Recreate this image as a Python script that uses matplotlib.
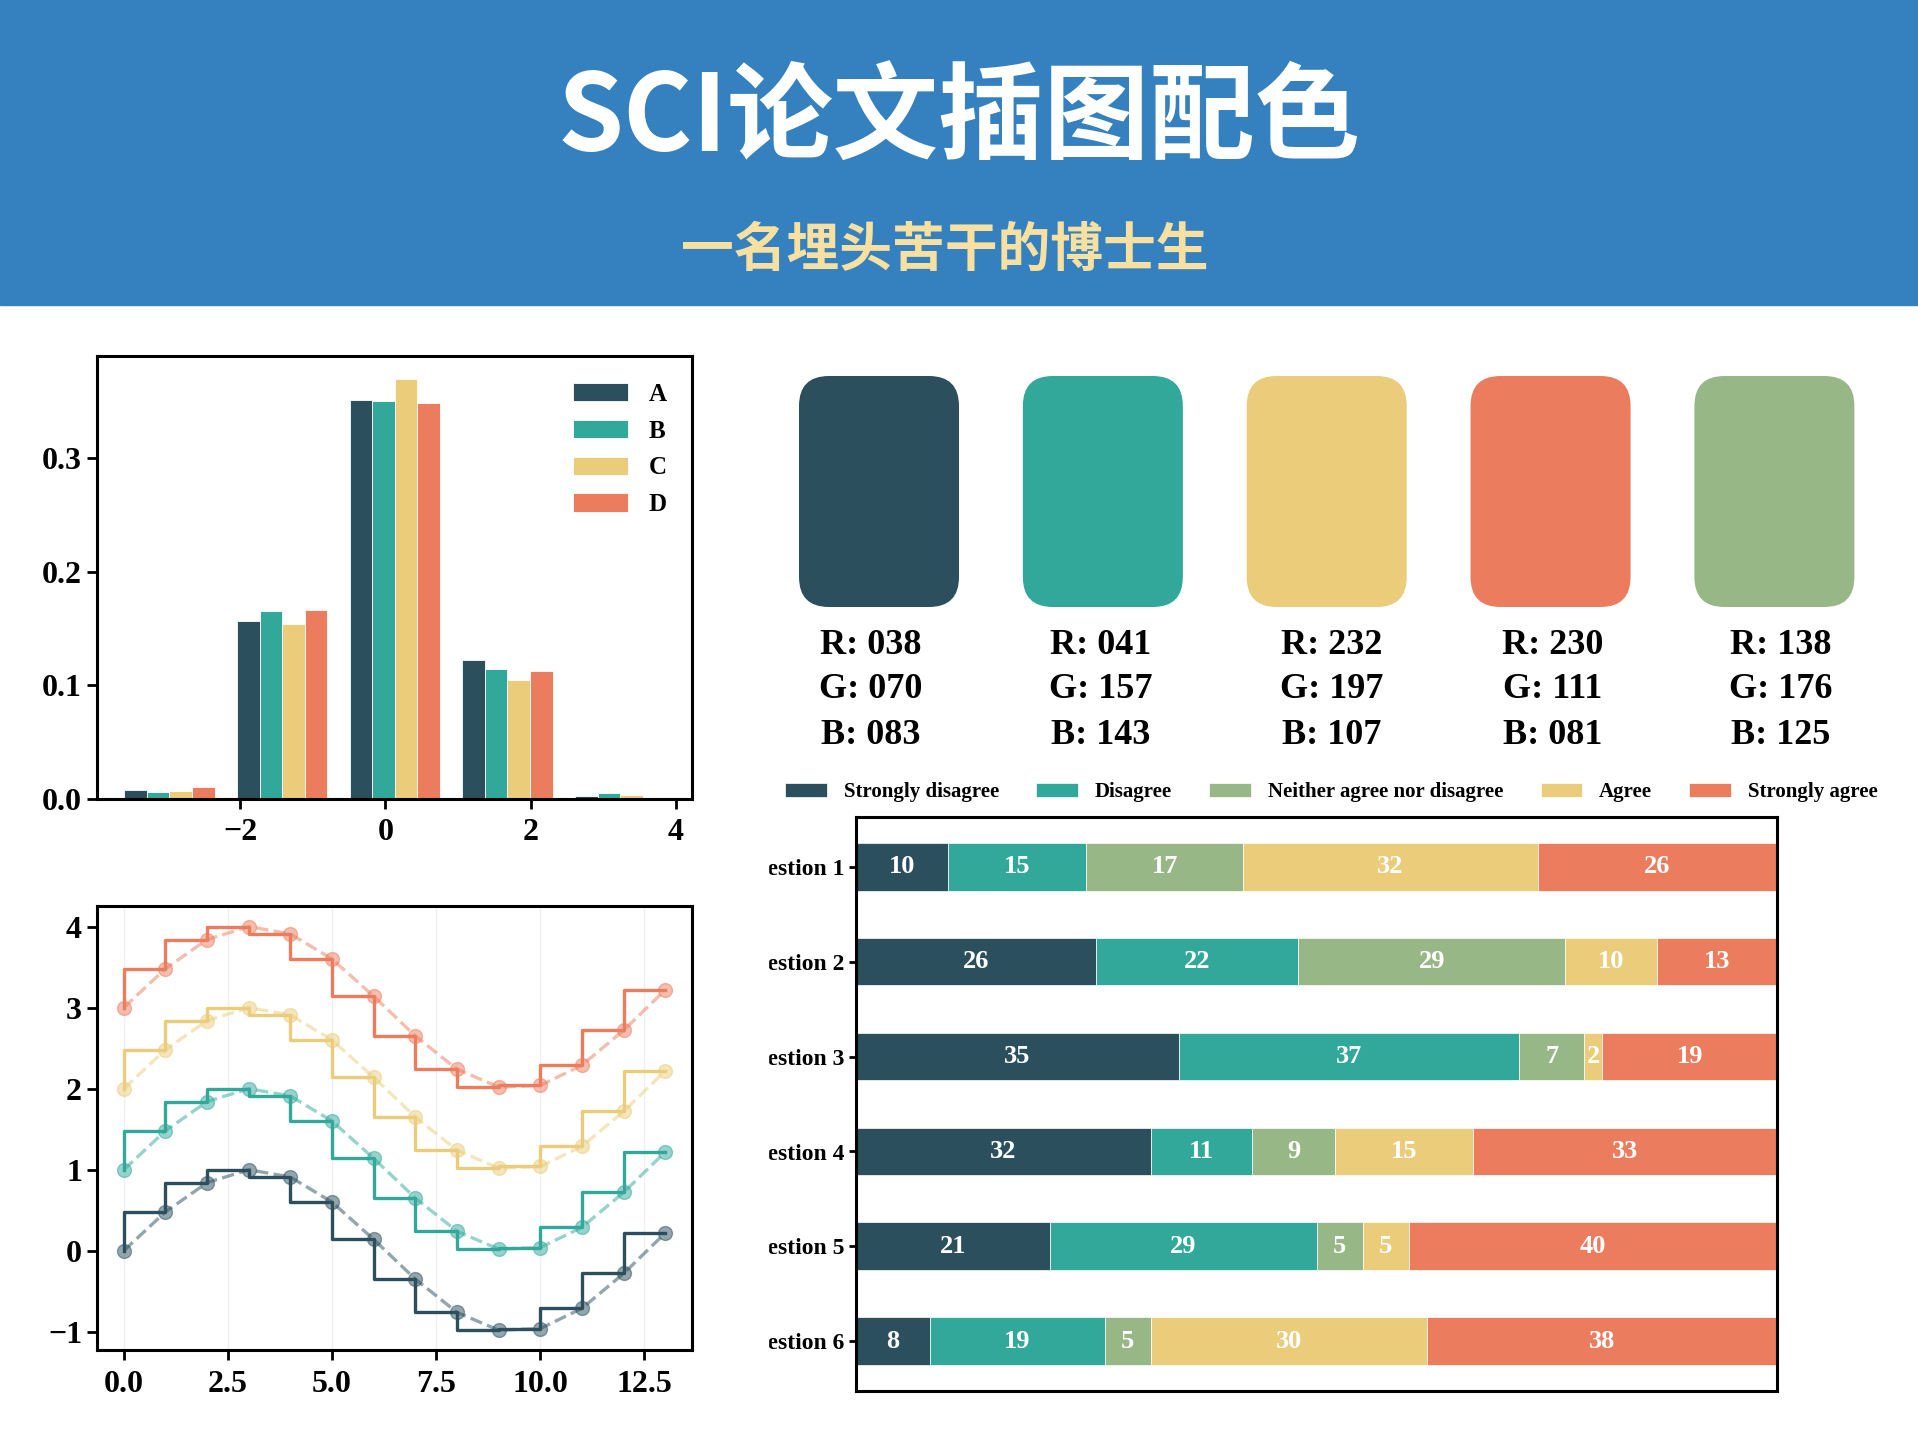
import numpy as np
import matplotlib
matplotlib.use('Agg')
import matplotlib.pyplot as plt
from matplotlib.patches import FancyBboxPatch, Rectangle

plt.rcParams['font.family'] = ['Liberation Serif', 'DejaVu Sans']
plt.rcParams['font.weight'] = 'bold'
plt.rcParams['axes.linewidth'] = 2.2

# 配色 (标注的 RGB 值, 以及图中看到的颜色)
palette_rgb = [(38, 70, 83), (41, 157, 143), (232, 197, 107), (230, 111, 81), (138, 176, 125)]
palette = ['#2b4f5d', '#31a89a', '#eacc7a', '#eb7c5e', '#97b886']

# 直方图数据
bin_edges = [-3.76, -2.20, -0.65, 0.90, 2.46, 4.01]
bin_centers = [-2.98, -1.43, 0.13, 1.68, 3.23]
hist_labels = ['A', 'B', 'C', 'D']
hist_A = [0.0076, 0.157, 0.351, 0.122, 0.0026]
hist_B = [0.0059, 0.165, 0.350, 0.114, 0.0050]
hist_C = [0.0070, 0.154, 0.370, 0.105, 0.0032]
hist_D = [0.0105, 0.1665, 0.3485, 0.1127, 0.0]

# 阶梯图数据
step_x = [0, 1, 2, 3, 4, 5, 6, 7, 8, 9, 10, 11, 12, 13]
step_y0 = [0.00, 0.48, 0.84, 1.00, 0.91, 0.60, 0.14, -0.35, -0.76, -0.98, -0.96, -0.71, -0.28, 0.22]
step_y1 = [1.00, 1.48, 1.84, 2.00, 1.91, 1.60, 1.14, 0.65, 0.24, 0.02, 0.04, 0.29, 0.72, 1.22]
step_y2 = [2.00, 2.48, 2.84, 3.00, 2.91, 2.60, 2.14, 1.65, 1.24, 1.02, 1.04, 1.29, 1.72, 2.22]
step_y3 = [3.00, 3.48, 3.84, 4.00, 3.91, 3.60, 3.14, 2.65, 2.24, 2.02, 2.04, 2.29, 2.72, 3.22]

# 问卷数据
questions = ['Question 1', 'Question 2', 'Question 3', 'Question 4', 'Question 5', 'Question 6']
answers = ['Strongly disagree', 'Disagree', 'Neither agree nor disagree', 'Agree', 'Strongly agree']
survey_values = [
    [10, 15, 17, 32, 26],
    [26, 22, 29, 10, 13],
    [35, 37, 7, 2, 19],
    [32, 11, 9, 15, 33],
    [21, 29, 5, 5, 40],
    [8, 19, 5, 30, 38],
]

W, H = 1918, 1439
fig = plt.figure(figsize=(W / 100, H / 100), dpi=100)

# 顶部标题栏
fig.add_artist(Rectangle((0, 1 - 305 / H), 1, 305 / H, transform=fig.transFigure,
                         color='#3581bf', zorder=0))
fig.text(0.5, 1 - 121 / H, 'SCI论文插图配色', ha='center', va='center', fontsize=76,
         color='white', family=['Noto Sans CJK SC', 'DejaVu Sans'], weight='black')
fig.text(0.4925, 1 - 250 / H, '一名埋头苦干的博士生', ha='center', va='center', fontsize=38,
         color='#f7e0a0', family=['Noto Sans CJK SC', 'DejaVu Sans'], weight='black')

# 色块
ax_sw = fig.add_axes([0, 0, 1, 1])
ax_sw.set_xlim(0, W)
ax_sw.set_ylim(H, 0)
ax_sw.axis('off')
ax_sw.patch.set_visible(False)
text_x = [871, 1101, 1332, 1553, 1781]
for i, (rgb, col) in enumerate(zip(palette_rgb, palette)):
    x0 = 799 + i * 223.85
    ax_sw.add_patch(FancyBboxPatch((x0, 376), 160, 231,
                                   boxstyle='round,pad=0,rounding_size=30',
                                   fc=col, ec='none'))
    for j, (ch, v) in enumerate(zip('RGB', rgb)):
        ax_sw.text(text_x[i], 645 + j * 45, f'{ch}: {v:03d}', ha='center', va='center',
                   fontsize=26)

# 直方图
ax1 = fig.add_axes([0.0504, 0.4449, 0.3106, 0.3077])
ax1.hist([bin_centers] * 4, bins=bin_edges, weights=[hist_A, hist_B, hist_C, hist_D],
         color=palette[:4], label=hist_labels, edgecolor='white', linewidth=0.6)
ax1.set_xlim(-3.98, 4.23)
ax1.set_ylim(0, 0.39)
ax1.set_xticks([-2, 0, 2, 4])
ax1.set_yticks([0.0, 0.1, 0.2, 0.3])
ax1.tick_params(labelsize=23, width=2, length=7)
ax1.tick_params(axis='x', pad=7)
ax1.legend(frameon=False, fontsize=18, handlelength=2.2, handleheight=0.75,
           handletextpad=0.85, labelspacing=0.55, loc='upper right',
           bbox_to_anchor=(0.995, 0.99))

# 阶梯图
ax2 = fig.add_axes([0.0504, 0.0616, 0.3106, 0.3085])
for y, c in zip([step_y0, step_y1, step_y2, step_y3], palette[:4]):
    ax2.step(step_x, y, where='pre', color=c, lw=2.4)
    ax2.plot(step_x, y, 'o--', color=c, alpha=0.5, lw=2.4, ms=10)
ax2.grid(axis='x', color='#f0f0f0', lw=1.0)
ax2.set_axisbelow(True)
ax2.set_xticks([0, 2.5, 5, 7.5, 10, 12.5])
ax2.set_yticks([-1, 0, 1, 2, 3, 4])
ax2.tick_params(labelsize=23, width=2, length=7)
ax2.tick_params(axis='x', pad=7)

# 堆叠条形图
ax3 = fig.add_axes([0.4464, 0.0335, 0.4802, 0.3987])
data = np.array(survey_values)
data_cum = data.cumsum(axis=1)
bar_colors = [palette[0], palette[1], palette[4], palette[2], palette[3]]
ax3.invert_yaxis()
ax3.xaxis.set_visible(False)
ax3.set_xlim(0, np.sum(data, axis=1).max())
for i, (name, color) in enumerate(zip(answers, bar_colors)):
    widths = data[:, i]
    starts = data_cum[:, i] - widths
    rects = ax3.barh(questions, widths, left=starts, height=0.5, label=name,
                     color=color, edgecolor='white', linewidth=0.5)
    ax3.bar_label(rects, label_type='center', color='white', fontsize=19)
ax3.tick_params(axis='y', labelsize=17, width=2, length=5)
ax3.legend(ncols=5, bbox_to_anchor=(0.516, 1), loc='lower center', fontsize=15,
           frameon=False, handlelength=2.0, columnspacing=1.8, handletextpad=0.8,
           borderaxespad=0.3)

# 左侧标签被截断的部分
fig.add_artist(Rectangle((700 / W, 1 - 1400 / H), 68 / W, 570 / H, transform=fig.transFigure,
                         color='white', zorder=5))

fig.savefig('out.png', dpi=100, facecolor='white')
